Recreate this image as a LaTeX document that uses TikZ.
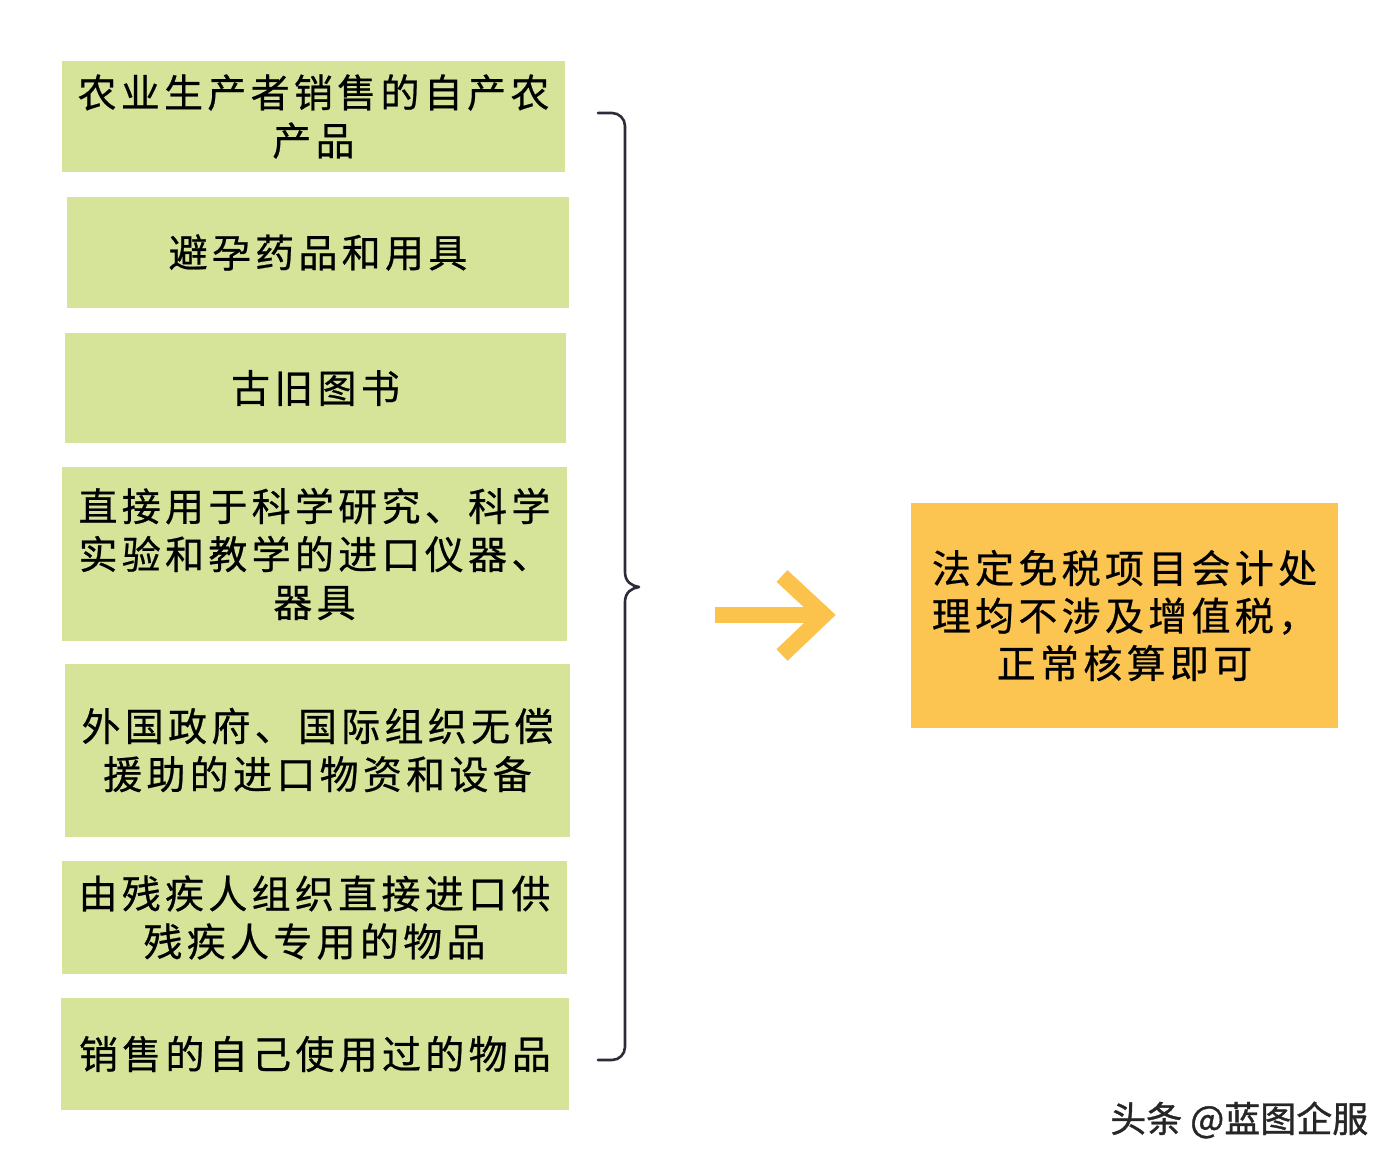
\documentclass[tikz,border=0pt]{standalone}
\usepackage{fontspec}
\newfontfamily\cjk[LetterSpace=11,FakeBold=0.6]{Noto Sans CJK SC}
\newfontfamily\cjkw[FakeBold=1]{Noto Sans CJK SC}
\definecolor{boxgreen}{HTML}{D6E499}
\definecolor{boxorange}{HTML}{FCC551}
\definecolor{arrowyel}{HTML}{FBC24C}
\definecolor{bracecol}{HTML}{2B2B3A}
\begin{document}
\begin{tikzpicture}[x=1pt,y=-1pt,
  gbox/.style={fill=boxgreen, draw=none, inner sep=0pt, align=center,
    font=\cjk\fontsize{39}{48}\selectfont, text=black},
  obox/.style={fill=boxorange, draw=none, inner sep=0pt, align=center,
    font=\cjk\fontsize{39}{47.5}\selectfont, text=black}]
\useasboundingbox[fill=white] (0,0) rectangle (1400,1170);
\node[gbox, minimum width=503pt, minimum height=111pt] (b1) at (313.5,116.5) {农业生产者销售的自产农\\产品};
\node[gbox, minimum width=502pt, minimum height=111pt] (b2) at (318,252.5) {避孕药品和用具};
\node[gbox, minimum width=501pt, minimum height=110pt] (b3) at (315.5,388) {古旧图书};
\node[gbox, minimum width=505pt, minimum height=174pt] (b4) at (314.5,554) {直接用于科学研究、科学\\实验和教学的进口仪器、\\器具};
\node[gbox, minimum width=505pt, minimum height=173pt] (b5) at (317.5,750) {外国政府、国际组织无偿\\援助的进口物资和设备};
\node[gbox, minimum width=505pt, minimum height=113pt] (b6) at (314.5,917.5) {由残疾人组织直接进口供\\残疾人专用的物品};
\node[gbox, minimum width=508pt, minimum height=112pt] (b7) at (315,1054) {销售的自己使用过的物品};
\node[obox, minimum width=427pt, minimum height=225pt] (r) at (1124.5,615.5) {法定免税项目会计处\\理均不涉及增值税，\\正常核算即可};
% brace
\coordinate (bt) at (598,113);
\coordinate (bb) at (598,1060);
\coordinate (bc) at (639,587);
\draw[bracecol, line width=2.6pt, line cap=round, line join=round]
  (bt) -- (612,113) arc[start angle=-90, end angle=0, radius=13]
  -- (625,572) .. controls (625,582) and (632,586) .. (bc)
  .. controls (632,588) and (625,592) .. (625,602)
  -- (625,1047) arc[start angle=0, end angle=90, radius=13] -- (bb);
% arrow
\coordinate (as) at (715,615);
\coordinate (ae) at (822,615);
\coordinate (h1) at (782,576);
\coordinate (h2) at (824,615);
\coordinate (h3) at (782,655);
\draw[arrowyel, line width=16pt] (as) -- (ae);
\draw[arrowyel, line width=16pt, line join=miter] (h1) -- (h2) -- (h3);
% watermark
\node[anchor=west, inner sep=0pt, text=black!85, font=\cjkw\fontsize{36}{40}\selectfont] (wm) at (1110,1120) {头条 @蓝图企服};
\end{tikzpicture}
\end{document}
